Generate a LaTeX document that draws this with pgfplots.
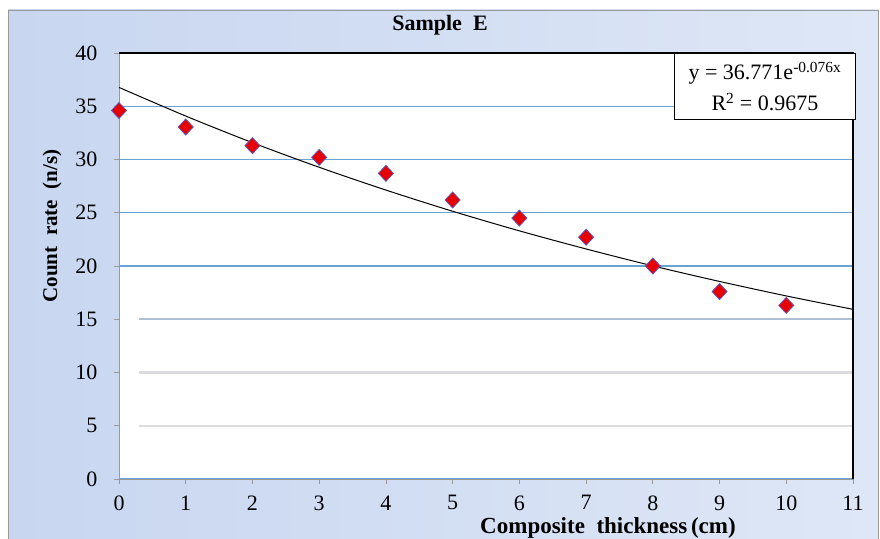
\documentclass[border=0pt]{standalone}
\usepackage{pgfplots}
\pgfplotsset{compat=1.18}
\usepackage{fontspec}
\setmainfont{Liberation Serif}
\definecolor{bgL}{RGB}{200,214,240}
\definecolor{bgR}{RGB}{222,231,246}
\definecolor{gridblue}{RGB}{105,162,212}
\definecolor{gridmid}{RGB}{175,192,214}
\definecolor{gridgray}{RGB}{220,220,224}
\definecolor{mkred}{RGB}{230,0,0}
\definecolor{mkedge}{RGB}{95,85,185}
\pgfplotstableread{
x y
0 34.6
1 33.05
2 31.3
3 30.2
4 28.7
5 26.2
6 24.5
7 22.7
8 20.0
9 17.6
10 16.3
}\dataE
\pgfplotstableread{
x y
0 36.77
1 34.08
2 31.58
3 29.27
4 27.13
5 25.14
6 23.30
7 21.60
8 20.01
9 18.55
10 17.19
11 15.93
}\trendE
\begin{document}
\begin{tikzpicture}
\useasboundingbox (0pt,0pt) rectangle (880pt,538pt);
\shade[left color=bgL, right color=bgR] (8pt,0pt) rectangle (878pt,528pt);
\draw[gray!80, line width=0.8pt] (8pt,-1pt) -- (8pt,528pt) -- (878pt,528pt) -- (878pt,-1pt);
\begin{axis}[
  at={(119pt,59pt)}, anchor=south west,
  scale only axis, width=734pt, height=426pt,
  xmin=0, xmax=11, ymin=0, ymax=40,
  xtick={0,1,...,11}, ytick={0,5,...,40},
  xtick pos=left, ytick pos=left,
  tick align=outside, major tick length=5pt,
  tick style={gray!80, line width=0.8pt},
  axis line style={gray!80, line width=0.8pt},
  axis background/.style={fill=white},
  ymajorgrids, grid style={draw=gridblue, line width=1.4pt},
  /pgf/number format/assume math mode=true,
  ticklabel style={font=\fontsize{22}{22}\selectfont},
  xticklabel style={yshift=-8pt},
  yticklabel style={xshift=-13pt},
  clip=false,
]
\draw[white, line width=3pt] (axis cs:0.02,5) -- (axis cs:0.3,5);
\draw[white, line width=3pt] (axis cs:0.02,10) -- (axis cs:0.3,10);
\draw[white, line width=3pt] (axis cs:0.02,15) -- (axis cs:0.3,15);
\draw[gridgray, line width=2.2pt] (axis cs:0.3,5) -- (axis cs:11,5);
\draw[gridgray, line width=2.2pt] (axis cs:0.3,10) -- (axis cs:11,10);
\draw[gridmid, line width=1.8pt] (axis cs:0.3,15) -- (axis cs:11,15);
\draw[black, line width=1.2pt] (rel axis cs:0,1) -- (rel axis cs:1,1) -- (rel axis cs:1,0);
\addplot[black, line width=1pt, smooth] table[x=x,y=y] {\trendE};
\addplot[only marks, mark=diamond*, mark size=8pt,
  mark options={xscale=1.25, fill=mkred, draw=mkedge, line width=0.8pt}]
  table[x=x,y=y] {\dataE};
\end{axis}
\node[draw=black, line width=1.2pt, fill=white, anchor=north east,
  minimum width=181pt, minimum height=66pt, align=center, inner sep=2pt,
  font=\fontsize{22}{31}\selectfont] at (856pt,485pt)
  {y = 36.771e\textsuperscript{-0.076x}\\R\textsuperscript{2} = 0.9675};
\node[font=\bfseries\fontsize{22}{22}\selectfont] at (440pt,513pt) {Sample\ \ E};
\node[font=\bfseries\fontsize{21}{21}\selectfont, rotate=90] at (52pt,312pt) {Count\ \ rate\ \ (n/s)};
\node[font=\bfseries\fontsize{23}{23}\selectfont] at (608pt,10pt) {Composite\ \ thickness\,(cm)};
\end{tikzpicture}
\end{document}
